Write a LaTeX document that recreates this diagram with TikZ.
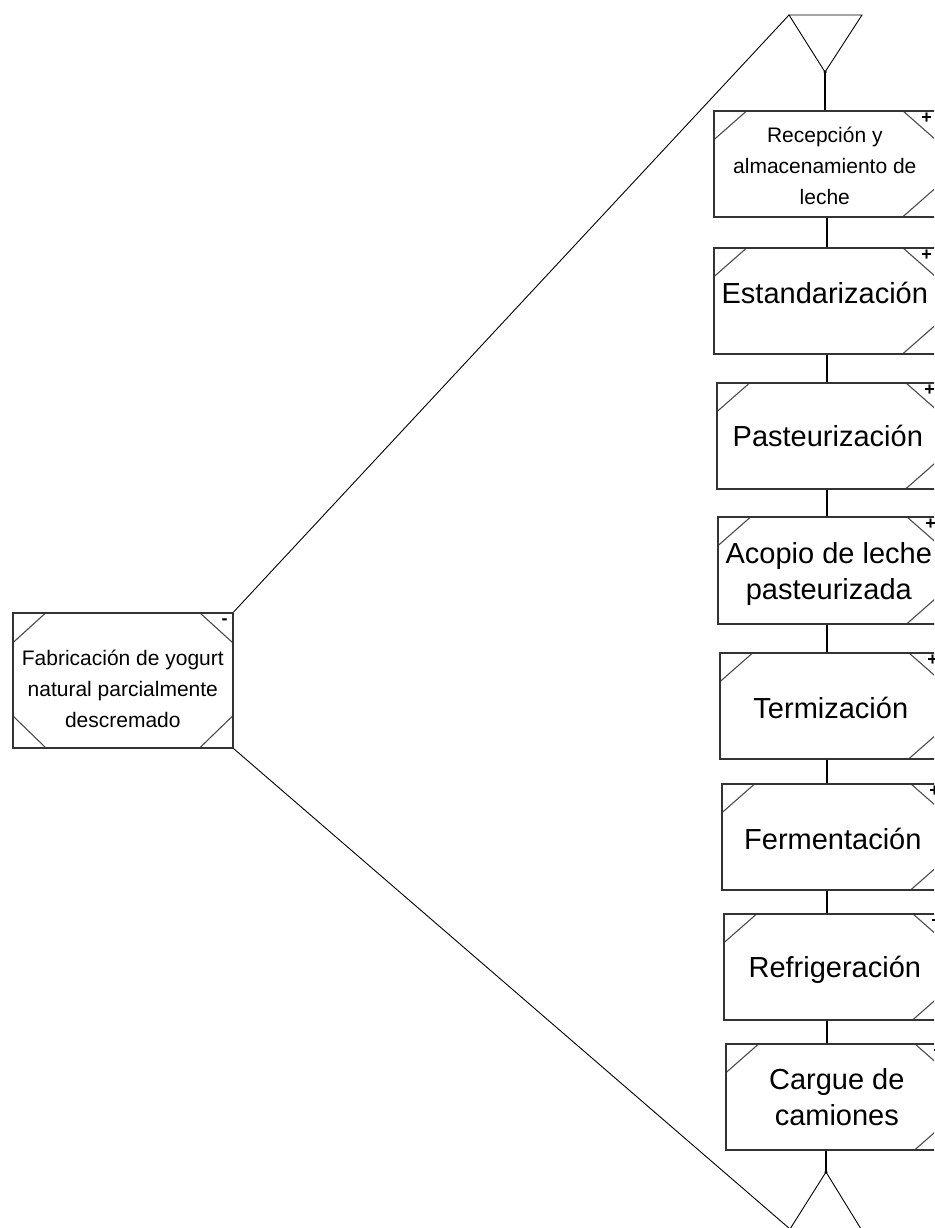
\documentclass[tikz,border=0pt]{standalone}
\usepackage{fontspec}
\setmainfont{Liberation Sans}
\begin{document}
\begin{tikzpicture}[x=1pt,y=-1pt,
  link/.style={draw=black, line width=1.2pt},
  thin link/.style={draw=black, line width=0.9pt},
  notch/.style={draw=black!70, line width=1.1pt},
  boxbase/.style={draw=black!80, line width=1.6pt, fill=white, rectangle,
    minimum width=222pt, minimum height=106pt, inner sep=0pt, anchor=north west},
  stepbox/.style={boxbase, path picture={
      \path (path picture bounding box.north west) coordinate (nw)
            (path picture bounding box.north east) coordinate (ne)
            (path picture bounding box.south east) coordinate (se);
      \draw[notch] ([shift={(0,29)}]nw) -- ([shift={(33,0)}]nw);
      \draw[notch] ([shift={(-33,0)}]ne) -- ([shift={(0,29)}]ne);
      \draw[notch] ([shift={(0,-29)}]se) -- ([shift={(-33,0)}]se);
    }},
  rootbox/.style={boxbase, minimum width=220pt, minimum height=135pt, path picture={
      \path (path picture bounding box.north west) coordinate (nw)
            (path picture bounding box.north east) coordinate (ne)
            (path picture bounding box.south east) coordinate (se)
            (path picture bounding box.south west) coordinate (sw);
      \draw[notch] ([shift={(0,30)}]nw) -- ([shift={(33,0)}]nw);
      \draw[notch] ([shift={(-33,0)}]ne) -- ([shift={(0,30)}]ne);
      \draw[notch] ([shift={(0,-32)}]se) -- ([shift={(-33,0)}]se);
      \draw[notch] ([shift={(0,-32)}]sw) -- ([shift={(33,0)}]sw);
    }},
  bigtext/.style={align=center, inner sep=0pt, font=\fontsize{29}{36}\selectfont},
  smalltext/.style={align=center, inner sep=0pt, font=\fontsize{21}{31}\selectfont},
  marker/.style={inner sep=0pt, font=\fontsize{18}{18}\selectfont\bfseries},
  apexdot/.style={fill=black, circle, inner sep=0pt, minimum size=3.5pt}
]
\useasboundingbox (0,0) rectangle (934,1228);
\fill[white] (0,0) rectangle (934,1228);
\clip (0,0) rectangle (934,1228);

% triangle markers at the ends of the decomposition
\coordinate (tA) at (789,15);
\coordinate (tB) at (862,15);
\coordinate (tC) at (825,72);
\coordinate (bA) at (790,1229);
\coordinate (bB) at (861,1229);
\coordinate (bC) at (826,1172);
\draw[thin link] (tA) -- (tB) -- (tC) -- cycle;
\draw[thin link] (bA) -- (bC) -- (bB);

% parent function
\node[rootbox] (lb) at (12,612) {};
\node[smalltext] (lt) at ([yshift=-9pt]lb.center)
  {Fabricación de yogurt\\natural parcialmente\\descremado};
\node[marker] (lm) at ([shift={(-9,10)}]lb.north east) {-};

% process steps
\node[stepbox] (b1) at (713,110) {};
\node[stepbox] (b2) at (713,247) {};
\node[stepbox] (b3) at (716,382) {};
\node[stepbox, minimum height=107pt] (b4) at (717,516) {};
\node[stepbox] (b5) at (719,652) {};
\node[stepbox] (b6) at (721,783) {};
\node[stepbox] (b7) at (723,913) {};
\node[stepbox] (b8) at (725,1043) {};

\node[smalltext] (t1) at ([yshift=-2pt]b1.center) {Recepción y\\almacenamiento de\\leche};
\node[bigtext] (t2) at ([yshift=8pt]b2.center) {Estandarización};
\node[bigtext] (t3) at (b3.center) {Pasteurización};
\node[bigtext] (t4) at ([yshift=-4pt]b4.center) {Acopio de leche\\pasteurizada};
\node[bigtext] (t5) at ([yshift=-2pt]b5.center) {Termización};
\node[bigtext] (t6) at ([yshift=-2pt]b6.center) {Fermentación};
\node[bigtext] (t7) at ([yshift=-3pt]b7.center) {Refrigeración};
\node[bigtext] (t8) at (b8.center) {Cargue de\\camiones};

\foreach \i in {1,...,8}{
  \node[marker] (m\i) at ([shift={(-10,8)}]b\i.north east) {+};
}

% connectors
\draw[thin link] (lb.north east) -- (tA);
\draw[thin link] (lb.south east) -- (bA);
\draw[link] (tC) -- (b1.north -| tC);
\coordinate (spine) at (827,0);
\draw[link] (b1.south -| spine) -- (b2.north -| spine);
\draw[link] (b2.south -| spine) -- (b3.north -| spine);
\draw[link] (b3.south -| spine) -- (b4.north -| spine);
\draw[link] (b4.south -| spine) -- (b5.north -| spine);
\draw[link] (b5.south -| spine) -- (b6.north -| spine);
\draw[link] (b6.south -| spine) -- (b7.north -| spine);
\draw[link] (b7.south -| spine) -- (b8.north -| spine);
\draw[link] (b8.south -| bC) -- (bC);
\node[apexdot] (dt) at (tC) {};
\node[apexdot] (db) at (bC) {};
\end{tikzpicture}
\end{document}
